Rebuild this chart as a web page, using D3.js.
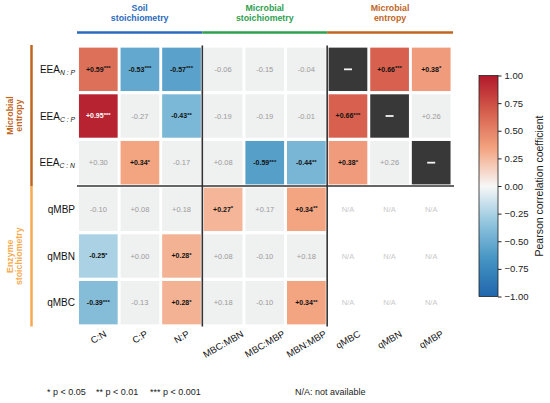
<!DOCTYPE html>
<html><head><meta charset="utf-8">
<script src="https://cdn.jsdelivr.net/npm/d3@7"></script>
<style>
body{margin:0;background:#fff;}
svg{display:block;font-family:"Liberation Sans",Arial,Helvetica,sans-serif;}
</style></head>
<body>
<svg id="chart" width="550" height="403"></svg>
<script>
// ---- data ----
const colLabels = ["C:N","C:P","N:P","MBC:MBN","MBC:MBP","MBN:MBP","qMBC","qMBN","qMBP"];
const rowLabels = [
  {base:"EEA", sub:"N : P"},
  {base:"EEA", sub:"C : P"},
  {base:"EEA", sub:"C : N"},
  {base:"qMBP", sub:""},
  {base:"qMBN", sub:""},
  {base:"qMBC", sub:""}
];
// "D" = diagonal (self), null = not available
const valuesEEA_NP = [ 0.59,-0.53,-0.57,-0.06,-0.15,-0.04,"D",0.66,0.38];
const valuesEEA_CP = [ 0.95,-0.27,-0.43,-0.19,-0.19,-0.01,0.66,"D",0.26];
const valuesEEA_CN = [ 0.30, 0.34,-0.17, 0.08,-0.59,-0.44,0.38,0.26,"D"];
const valuesQMBP   = [-0.10, 0.08, 0.18, 0.27, 0.17, 0.34,null,null,null];
const valuesQMBN   = [-0.25, 0.00, 0.28, 0.08,-0.10, 0.18,null,null,null];
const valuesQMBC   = [-0.39,-0.13, 0.28, 0.18,-0.10, 0.34,null,null,null];
const starsEEA_NP = ["***","***","***","","","","","***","*"];
const starsEEA_CP = ["***","","**","","","","***","",""];
const starsEEA_CN = ["","*","","","***","**","*","",""];
const starsQMBP   = ["","","","*","","**","","",""];
const starsQMBN   = ["*","","*","","","","","",""];
const starsQMBC   = ["***","","*","","","**","","",""];
const colGroups = [
  {lines:["Soil","stoichiometry"], from:0, to:2, color:"#2a6bbd"},
  {lines:["Microbial","stoichiometry"], from:3, to:5, color:"#2ea04f"},
  {lines:["Microbial","entropy"], from:6, to:8, color:"#c0661f"}
];
const rowGroups = [
  {lines:["Microbial","entropy"], from:0, to:2, color:"#c0661f"},
  {lines:["Enzyme","stoichiometry"], from:3, to:5, color:"#f6aa50"}
];
const cbTicks = [1,0.75,0.5,0.25,0,-0.25,-0.5,-0.75,-1];
const cbTitle = "Pearson correlation coefficient";
const footStars = ["* p < 0.05","** p < 0.01","*** p < 0.001"];
const footNA = "N/A: not available";
// diverging palette (blue -> white -> red)
const paletteColors = ["#2166ac","#4393c3","#92c5de","#f7f7f7","#f4a582","#d6604d","#b2182b"];

const valueRows = [valuesEEA_NP,valuesEEA_CP,valuesEEA_CN,valuesQMBP,valuesQMBN,valuesQMBC];
const starRows = [starsEEA_NP,starsEEA_CP,starsEEA_CN,starsQMBP,starsQMBN,starsQMBC];

// ---- layout ----
const svg = d3.select("#chart");
const x = d3.scaleBand().domain(d3.range(colLabels.length)).range([77.5,452]).paddingInner(0.07).paddingOuter(0.035);
const y = d3.scaleBand().domain(d3.range(rowLabels.length)).range([46,326]).paddingInner(0.07).paddingOuter(0.035);
const paletteStops = paletteColors.map((c,k)=>-1 + 2*k/(paletteColors.length-1));
const color = d3.scaleLinear().domain(paletteStops).range(paletteColors).interpolate(d3.interpolateRgb).clamp(true);
const gapX = x.step()*x.paddingInner()/2, gapY = y.step()*y.paddingInner()/2;

const cells = [];
valueRows.forEach((row,i)=>row.forEach((v,j)=>cells.push({i,j,v,s:starRows[i][j]})));

const g = svg.append("g");
const fmt = v => (v>=0?"+":"-")+Math.abs(v).toFixed(2);

cells.forEach(c=>{
  const cx = x(c.j), cy = y(c.i), w = x.bandwidth(), h = y.bandwidth();
  if (c.v === null) {
    g.append("text").attr("x",cx+w/2).attr("y",cy+h/2).attr("dy","0.35em")
      .attr("text-anchor","middle").attr("font-size",7.5).attr("fill","#c9c9c9").text("N/A");
    return;
  }
  if (c.v === "D") {
    g.append("rect").attr("x",cx).attr("y",cy).attr("width",w).attr("height",h).attr("fill","#383838");
    g.append("rect").attr("x",cx+w/2-4).attr("y",cy+h/2-0.9).attr("width",8).attr("height",1.8).attr("fill","#f4f4f4");
    return;
  }
  const sig = c.s !== "";
  g.append("rect").attr("x",cx).attr("y",cy).attr("width",w).attr("height",h)
    .attr("fill", sig ? color(c.v) : "#eff0f0");
  const t = g.append("text").attr("x",cx+w/2).attr("y",cy+h/2).attr("dy","0.35em").attr("text-anchor","middle");
  if (sig) {
    t.attr("font-size",7).attr("font-weight","bold").attr("fill", Math.abs(c.v)>0.8?"#fff":"#111");
    t.append("tspan").text(fmt(c.v));
    t.append("tspan").attr("font-size",6).attr("dy","-0.25em").text(c.s);
  } else {
    t.attr("font-size",7.5).attr("fill","#9b9b9b").text(fmt(c.v));
  }
});

// dividers
const dark = "#333";
[3,6].forEach(j=>{
  const xx = x(j)-gapX;
  svg.append("line").attr("x1",xx).attr("x2",xx).attr("y1",45.5).attr("y2",326.5).attr("stroke",dark).attr("stroke-width",1.6);
});
{
  const yy = y(3)-gapY;
  svg.append("line").attr("x1",77).attr("x2",454).attr("y1",yy).attr("y2",yy).attr("stroke",dark).attr("stroke-width",1.6);
}

// column group headers
colGroups.forEach(gp=>{
  const x0 = gp.from===0 ? 77 : x(gp.from)-gapX;
  const x1 = gp.to===colLabels.length-1 ? 453 : x(gp.to)+x.bandwidth()+gapX;
  svg.append("line").attr("x1",x0).attr("x2",x1).attr("y1",32.5).attr("y2",32.5).attr("stroke",gp.color).attr("stroke-width",2.5);
  const t = svg.append("text").attr("text-anchor","middle").attr("font-size",8.8).attr("font-weight","bold").attr("fill",gp.color);
  gp.lines.forEach((l,k)=>t.append("tspan").attr("x",(x0+x1)/2).attr("y",10.8+k*10).text(l));
});

// row group headers
rowGroups.forEach(gp=>{
  const y0 = gp.from===0 ? 45 : y(gp.from)-gapY;
  const y1 = gp.to===rowLabels.length-1 ? 326.5 : y(gp.to)+y.bandwidth()+gapY;
  svg.append("line").attr("x1",31.5).attr("x2",31.5).attr("y1",y0).attr("y2",y1).attr("stroke",gp.color).attr("stroke-width",2.5);
  const cyy = (y0+y1)/2;
  const t = svg.append("text").attr("text-anchor","middle").attr("font-size",8.8).attr("font-weight","bold").attr("fill",gp.color)
    .attr("transform",`translate(0,${cyy}) rotate(-90)`);
  gp.lines.forEach((l,k)=>t.append("tspan").attr("x",0).attr("y",13.3+k*9).text(l));
});

// row labels
rowLabels.forEach((r,i)=>{
  const t = svg.append("text").attr("x",75).attr("y",y(i)+y.bandwidth()/2).attr("dy","0.35em")
    .attr("text-anchor","end").attr("font-size",10).attr("fill","#111");
  t.append("tspan").text(r.base);
  if (r.sub) t.append("tspan").attr("font-size",6.8).attr("font-style","italic").attr("dy","0.3em").text(r.sub);
});

// column labels (rotated 30°, bbox centred on tick)
colLabels.forEach((c,j)=>{
  const t = svg.append("text").attr("text-anchor","middle").attr("dominant-baseline","central")
    .attr("font-size",9.5).attr("fill","#111").text(c);
  const L = t.node().getComputedTextLength();
  const hh = 7.5;
  const cx = x(j)+x.bandwidth()/2;
  const cy = 329.5 + (L*0.5 + hh*0.866)/2;
  t.attr("transform",`translate(${cx},${cy}) rotate(-30)`);
});

// colorbar
const cbX = 479, cbW = 19, cbY0 = 75.5, cbY1 = 296.5;
const cbScale = d3.scaleLinear().domain([1,-1]).range([cbY0,cbY1]);
const defs = svg.append("defs");
const grad = defs.append("linearGradient").attr("id","cbg").attr("x1",0).attr("x2",0).attr("y1",0).attr("y2",1);
d3.range(0,1.0001,0.025).forEach(t=>{
  grad.append("stop").attr("offset",t).attr("stop-color",color(1-2*t));
});
svg.append("rect").attr("x",cbX).attr("y",cbY0).attr("width",cbW).attr("height",cbY1-cbY0)
  .attr("fill","url(#cbg)").attr("stroke","#222").attr("stroke-width",0.8);
const cbAxis = svg.append("g").attr("transform",`translate(${cbX+cbW},0)`)
  .call(d3.axisRight(cbScale).tickValues(cbTicks).tickSize(3.5).tickPadding(3)
    .tickFormat(v=> (v<0?"\u2212":"")+Math.abs(v).toFixed(2)));
cbAxis.select(".domain").remove();
cbAxis.selectAll("text").attr("font-size",9.5).attr("fill","#222").attr("font-family","Liberation Sans, Arial, sans-serif");
cbAxis.selectAll("line").attr("stroke","#222");
svg.append("text").attr("transform",`translate(543,${(cbY0+cbY1)/2}) rotate(-90)`)
  .attr("text-anchor","middle").attr("font-size",10.5).attr("fill","#222").text(cbTitle);

// footnotes
const footX = [47,96,150];
footStars.forEach((f,k)=>svg.append("text").attr("x",footX[k]).attr("y",395).attr("font-size",9).attr("fill","#222").text(f));
svg.append("text").attr("x",295).attr("y",395).attr("font-size",9).attr("fill","#222").text(footNA);
</script>
</body></html>
